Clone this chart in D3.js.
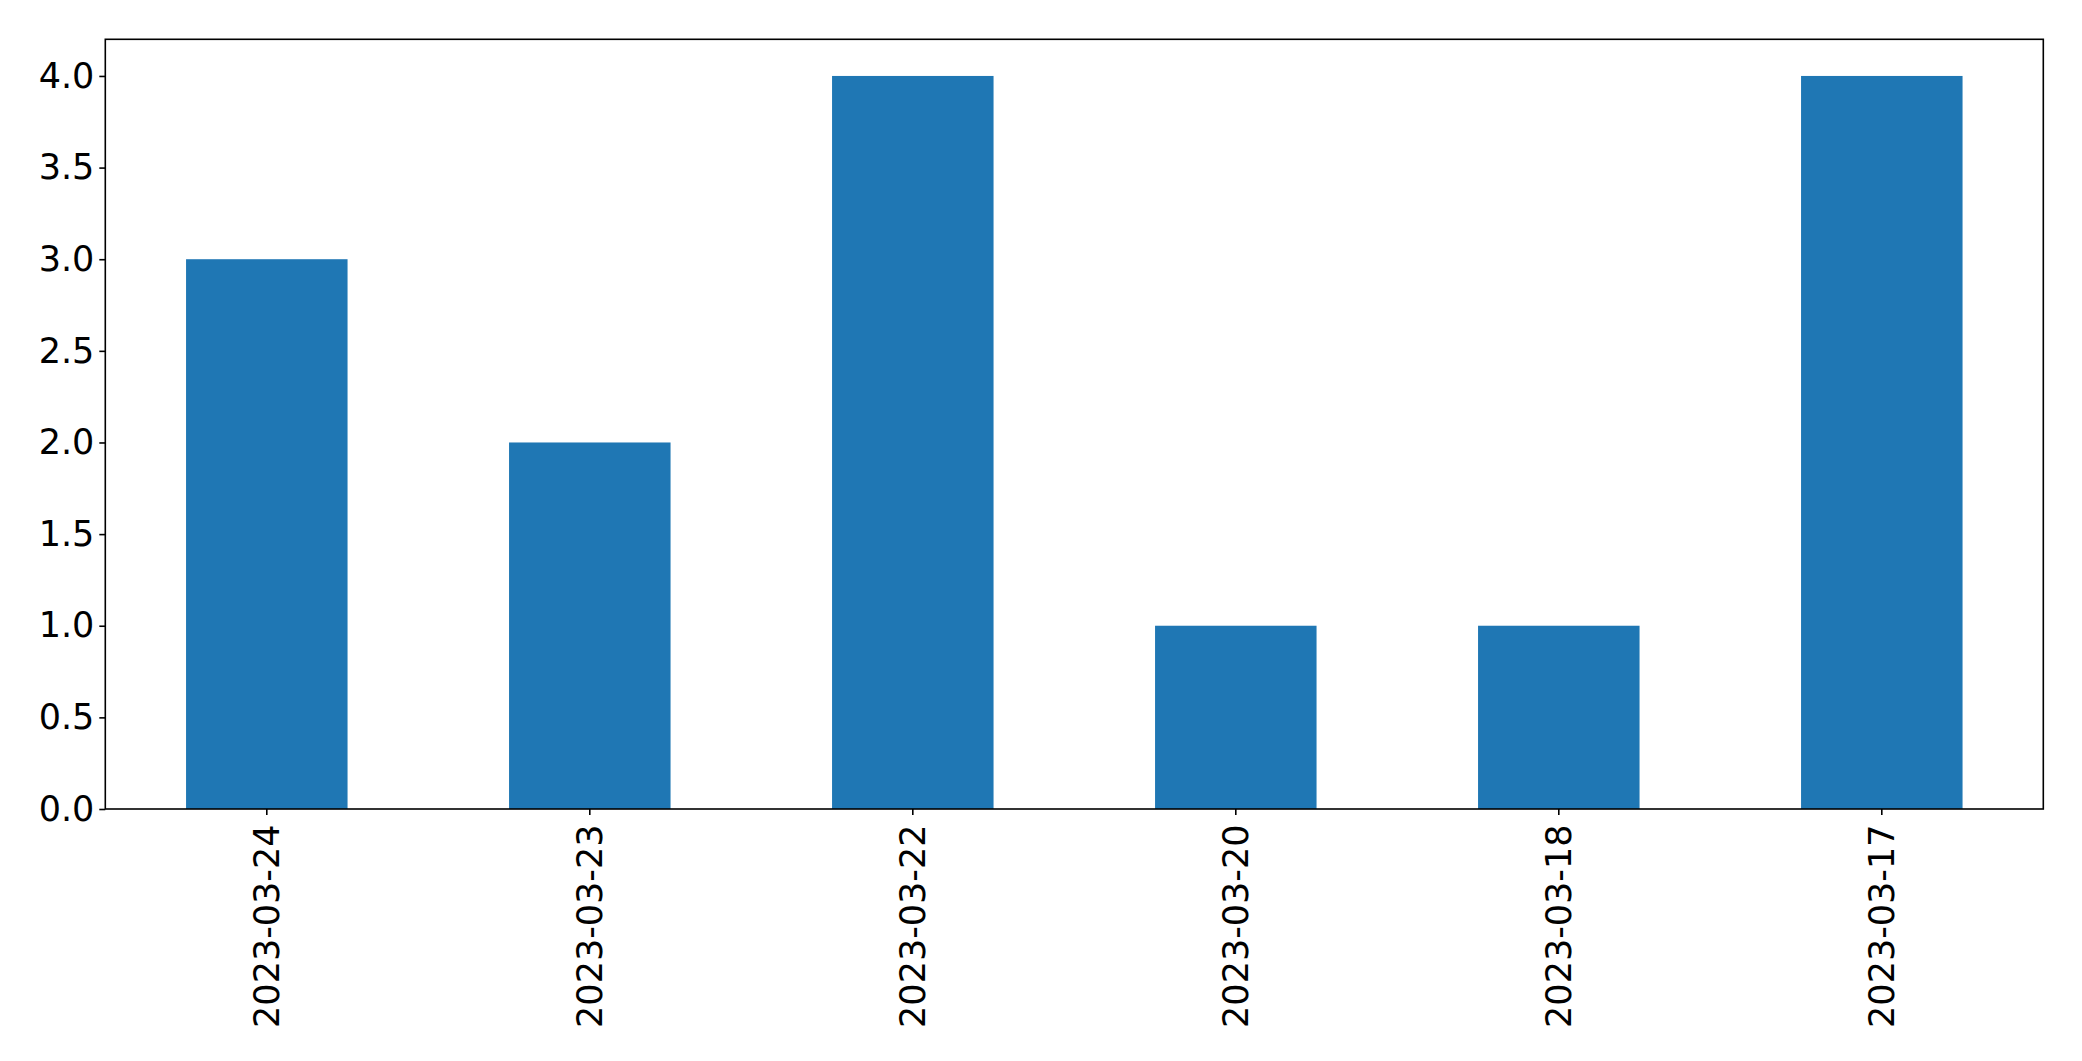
<!DOCTYPE html>
<html>
<head>
<meta charset="utf-8">
<script src="https://cdn.jsdelivr.net/npm/d3@7"></script>
<style>
  html, body { margin: 0; padding: 0; background: #fff; }
  svg { display: block; }
  text { font-family: "DejaVu Sans", sans-serif; fill: #000; }
</style>
</head>
<body>
<svg id="chart" width="2082" height="1061"></svg>
<script>
const categories = ["2023-03-24", "2023-03-23", "2023-03-22", "2023-03-20", "2023-03-18", "2023-03-17"];
const values = [3, 2, 4, 1, 1, 4];
const yTicks = [0, 0.5, 1.0, 1.5, 2.0, 2.5, 3.0, 3.5, 4.0];

const W = 2082, H = 1061;
const margin = { left: 105.3, right: 2082 - 2043.3, top: 39.3, bottom: 1061 - 809 };
const svg = d3.select("#chart");
const g = svg.append("g");

const x = d3.scaleBand().domain(categories).range([margin.left, W - margin.right]).paddingInner(0.5).paddingOuter(0.25);
const y = d3.scaleLinear().domain([0, 4.2]).range([H - margin.bottom, margin.top]);

const fontSize = 35, tickLen = 6, tickPad = 5;

g.selectAll("rect.bar").data(values).enter().append("rect")
  .attr("class", "bar")
  .attr("x", (d, i) => x(categories[i]))
  .attr("width", x.bandwidth())
  .attr("y", d => y(d))
  .attr("height", d => y(0) - y(d))
  .attr("fill", "#1f77b4");

// Y axis
const yAxis = d3.axisLeft(y).tickValues(yTicks).tickFormat(d3.format(".1f")).tickSizeInner(tickLen).tickSizeOuter(0).tickPadding(tickPad);
const yg = g.append("g").attr("transform", `translate(${margin.left},0)`).call(yAxis);
yg.attr("font-size", fontSize).attr("font-family", "DejaVu Sans, sans-serif");
yg.select(".domain").remove();
yg.selectAll(".tick line").attr("stroke", "#000").attr("stroke-width", 1.6);
yg.selectAll(".tick text").attr("font-size", fontSize).attr("fill", "#000");

// X axis
const xAxis = d3.axisBottom(x).tickSizeInner(tickLen).tickSizeOuter(0).tickPadding(tickPad);
const xg = g.append("g").attr("transform", `translate(0,${H - margin.bottom})`).call(xAxis);
xg.attr("font-size", fontSize).attr("font-family", "DejaVu Sans, sans-serif");
xg.select(".domain").remove();
xg.selectAll(".tick line").attr("stroke", "#000").attr("stroke-width", 1.6);
xg.selectAll(".tick text")
  .attr("font-size", fontSize)
  .attr("fill", "#000")
  .attr("transform", `translate(0,${tickLen + tickPad + 4.5}) rotate(-90)`)
  .attr("x", 0).attr("y", 0)
  .attr("dy", "0.35em")
  .attr("text-anchor", "end");

// Frame
g.append("rect")
  .attr("x", margin.left).attr("y", margin.top)
  .attr("width", W - margin.left - margin.right)
  .attr("height", H - margin.top - margin.bottom)
  .attr("fill", "none").attr("stroke", "#000").attr("stroke-width", 1.6);
</script>
</body>
</html>
